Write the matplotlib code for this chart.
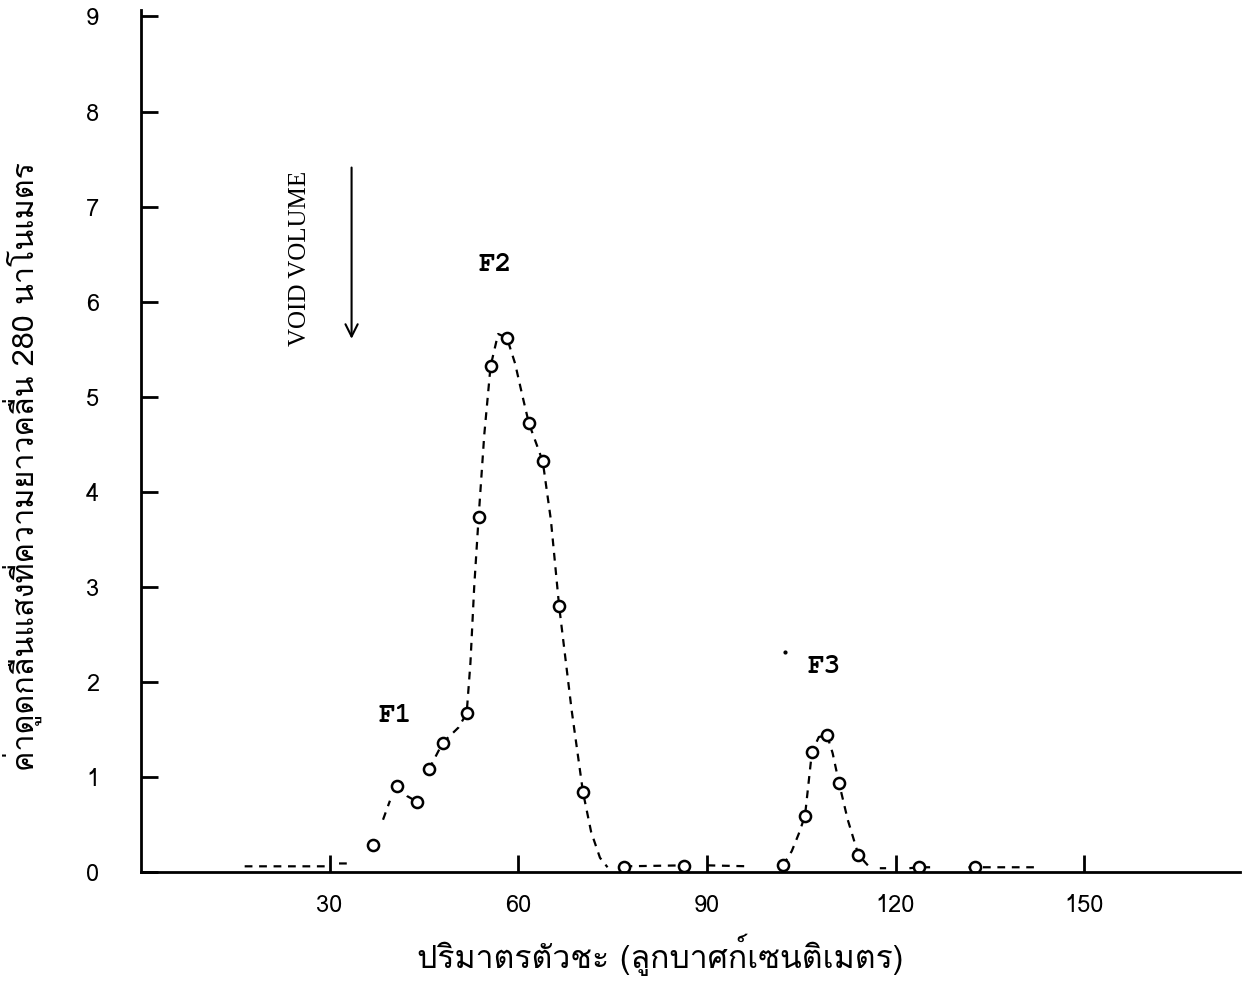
import numpy as np
import matplotlib
matplotlib.use("Agg")
import matplotlib.pyplot as plt

plt.rcParams['font.family'] = ['Tlwg Typewriter', 'TlwgTypewriter', 'Loma', 'DejaVu Sans']

# measured points (elution volume ml, absorbance at 280 nm)
vol = [36.9, 40.7, 43.9, 45.8, 48.0, 51.8, 53.7, 55.6, 58.2, 61.7, 63.9,
       66.5, 70.3, 76.9, 86.3, 102.1, 105.6, 106.7, 109.1, 111.0, 114.1,
       123.7, 132.6]
absb = [0.28, 0.91, 0.74, 1.08, 1.36, 1.67, 3.73, 5.32, 5.62, 4.72, 4.32,
        2.80, 0.84, 0.05, 0.06, 0.07, 0.59, 1.26, 1.44, 0.94, 0.18,
        0.05, 0.05]

# hand drawn dashed trace (nan = gap in the pen line)
curve_x = [16.5, 30.0, np.nan, 31.5, 33.0, np.nan,
           38.5, 39.6, np.nan, 40.7, 42.3, 43.9, np.nan, 45.8, 48.0, np.nan,
           48.0, 50.5, 51.8, 52.4, 53.0, 53.7, 54.6, 55.6, 56.8, 58.2,
           59.5, 60.7, 61.7, 63.9, 65.2, 66.5, 68.5, 70.3, 71.6, 73.0, 74.2,
           np.nan, 76.9, 86.3, np.nan, 90.1, 96.8, np.nan,
           102.1, 103.5, 104.6, 105.6, 106.7, 107.8, 109.1, 110.0, 111.0,
           112.4, 114.1, 115.6, np.nan, 117.5, 118.5, np.nan, 122.2, 123.7,
           125.5, np.nan, 131.6, 132.6, 142.0]
curve_y = [0.06, 0.06, np.nan, 0.09, 0.09, np.nan,
           0.55, 0.75, np.nan, 0.91, 0.80, 0.74, np.nan, 1.08, 1.36, np.nan,
           1.36, 1.52, 1.67, 2.2, 3.0, 3.73, 4.6, 5.32, 5.66, 5.62,
           5.35, 5.0, 4.72, 4.32, 3.7, 2.80, 1.7, 0.84, 0.42, 0.15, 0.05,
           np.nan, 0.06, 0.07, np.nan, 0.07, 0.06, np.nan,
           0.07, 0.22, 0.40, 0.59, 1.26, 1.42, 1.44, 1.25, 0.94,
           0.55, 0.18, 0.07, np.nan, 0.04, 0.04, np.nan, 0.04, 0.05,
           0.05, np.nan, 0.05, 0.05, 0.05]

x_ticks = [30, 60, 90, 120, 150]
y_ticks = [0, 1, 2, 3, 4, 5, 6, 7, 8, 9]

fig = plt.figure(figsize=(12.47, 9.82), dpi=100)
ax = fig.add_axes([0.113, 0.112, 0.881, 0.878])

ax.plot(curve_x, curve_y, color='black', lw=1.6, ls=(0, (3.5, 3)))
ax.plot(vol, absb, 'o', ms=8, mfc='white', mec='black', mew=1.8)

ax.set_xlim(0, 174.7)
ax.set_ylim(0, 9.07)
ax.set_xticks(x_ticks)
ax.set_yticks(y_ticks)
ax.set_yticklabels([str(v) for v in y_ticks])
for s in ['top', 'right']:
    ax.spines[s].set_visible(False)
ax.spines['left'].set_linewidth(2)
ax.spines['bottom'].set_linewidth(2)
ax.tick_params(axis='both', direction='in', length=12, width=2,
               labelsize=17)
ax.tick_params(axis='y', pad=30)
ax.tick_params(axis='x', pad=16)

ax.set_xlabel('ปริมาตรตัวชะ (ลูกบาศก์เซนติเมตร)', fontsize=23)
ax.xaxis.set_label_coords(0.473, -0.072)
ax.set_ylabel('ค่าดูดกลืนแสงที่ความยาวคลื่น 280 นาโนเมตร', fontsize=22)
ax.yaxis.set_label_coords(-0.09, 0.47)

mono = ['FreeMono', 'Nimbus Mono PS', 'Courier New', 'Liberation Mono']
ax.text(40.4, 1.64, 'F1', fontsize=20, family=mono, weight='bold',
        ha='center', va='center')
ax.text(56.4, 6.39, 'F2', fontsize=20, family=mono, weight='bold',
        ha='center', va='center')
ax.text(108.7, 2.16, 'F3', fontsize=20, family=mono, weight='bold',
        ha='center', va='center')
ax.plot([102.4], [2.31], '.', color='black', ms=4)

ax.text(25.3, 6.45, 'VOID VOLUME', rotation=90, fontsize=18,
        family=['Liberation Serif', 'DejaVu Serif'], ha='center', va='center')
ax.annotate('', xy=(33.5, 5.58), xytext=(33.5, 7.44),
            arrowprops=dict(arrowstyle='->', color='black', lw=1.5,
                            mutation_scale=22))

fig.savefig('out.png', dpi=100)
